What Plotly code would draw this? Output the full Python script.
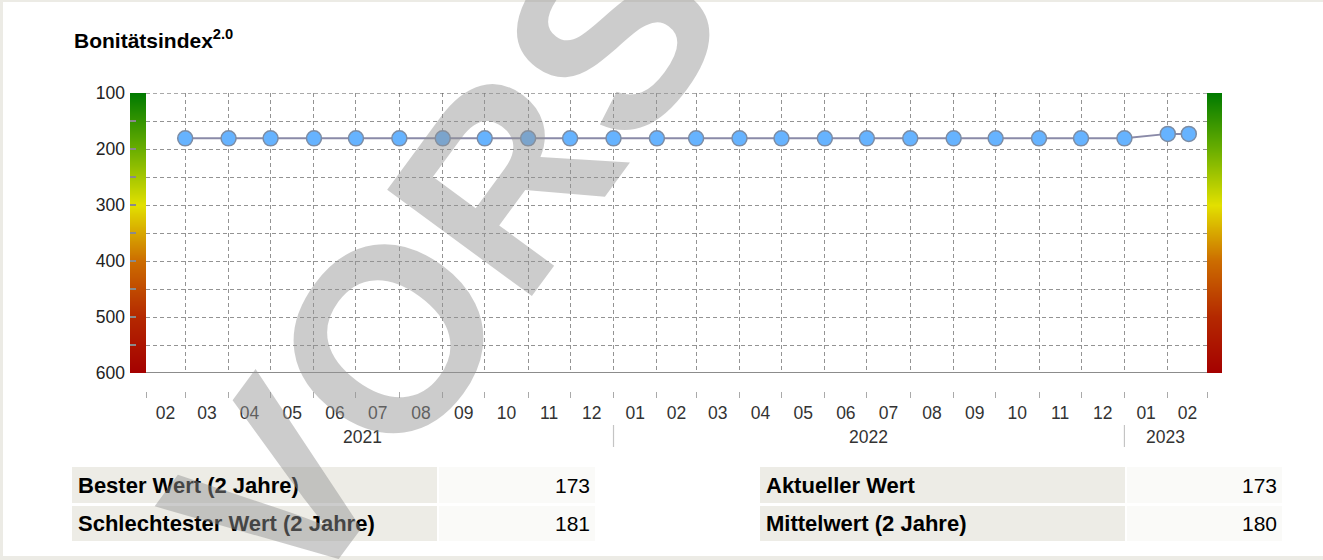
import plotly.graph_objects as go

# ---------------- data ----------------
dates = [
    "2021-03-01", "2021-04-01", "2021-05-01", "2021-06-01", "2021-07-01",
    "2021-08-01", "2021-09-01", "2021-10-01", "2021-11-01", "2021-12-01",
    "2022-01-01", "2022-02-01", "2022-03-01", "2022-04-01", "2022-05-01",
    "2022-06-01", "2022-07-01", "2022-08-01", "2022-09-01", "2022-10-01",
    "2022-11-01", "2022-12-01", "2023-01-01", "2023-02-01", "2023-02-16",
]
values = [
    181, 181, 181, 181, 181,
    181, 181, 181, 181, 181,
    181, 181, 181, 181, 181,
    181, 181, 181, 181, 181,
    181, 181, 181, 173, 173,
]
x_range = ["2021-02-01", "2023-03-01"]
year_labels = ["2021", "2022", "2023"]
year_label_dates = ["2021-07-06", "2022-07-02", "2023-01-30"]
year_starts = ["2022-01-01", "2023-01-01"]

y_ticks = [100, 150, 200, 250, 300, 350, 400, 450, 500, 550, 600]
y_tick_text = ["100", "", "200", "", "300", "", "400", "", "500", "", "600"]
scale_levels = [100, 125, 150, 175, 200, 225, 250, 275, 300, 325, 350, 375,
                400, 425, 450, 475, 500, 525, 550, 575, 600]

table_left_labels = ["Bester Wert (2 Jahre)", "Schlechtester Wert (2 Jahre)"]
table_left_values = ["173", "181"]
table_right_labels = ["Aktueller Wert", "Mittelwert (2 Jahre)"]
table_right_values = ["173", "180"]

title_text = "Bonitätsindex<sup>2.0</sup>"
watermark_text = "VORS"

# ---------------- layout helpers ----------------
W, H = 1323, 560
FONT = "Liberation Sans, Arial, Helvetica, sans-serif"


def px_x(x):
    return x / W


def px_y(y):
    return 1 - y / H


PLOT_L, PLOT_R, PLOT_T, PLOT_B = 146, 1207, 93, 373
CB_L0, CB_R1 = 130, 1222

colorscale = [
    [0.0, "#007a00"],
    [0.2, "#6aae00"],
    [0.4, "#e2e000"],
    [0.6, "#cc6c00"],
    [0.8, "#b42800"],
    [1.0, "#a40000"],
]

fig = go.Figure()

# gradient bars on both sides
for xa in ["x2", "x3"]:
    fig.add_trace(go.Heatmap(
        x=[0, 1], y=scale_levels, z=[[v, v] for v in scale_levels],
        colorscale=colorscale, zmin=100, zmax=600, zsmooth="best",
        showscale=False, hoverinfo="skip", xaxis=xa, yaxis="y",
    ))

fig.add_trace(go.Scatter(
    x=dates, y=values, mode="lines+markers", xaxis="x", yaxis="y",
    line=dict(color="#8a8aa8", width=2),
    marker=dict(size=15, color="#66b3ff", line=dict(color="#7c8ca4", width=1.5)),
    hoverinfo="x+y",
))

grid_col = "#939393"
dash = "4px,3px"
TICK_FONT = dict(family=FONT, size=17.5, color="#333333")

fig.update_layout(
    template="none",
    width=W, height=H, autosize=False,
    margin=dict(l=0, r=0, t=0, b=0, pad=0, autoexpand=False),
    paper_bgcolor="white", plot_bgcolor="white",
    showlegend=False,
    font=dict(family=FONT, color="#333333"),
    xaxis=dict(
        domain=[px_x(PLOT_L), px_x(PLOT_R)], type="date", range=x_range,
        dtick="M1", tick0="2021-02-01", tickformat="%m", ticklabelmode="period",
        showgrid=True, gridcolor=grid_col, griddash=dash, gridwidth=1,
        ticks="outside", ticklen=6, tickcolor="#aaaaaa", tickwidth=1,
        anchor="free", position=px_y(391), showline=False, zeroline=False,
        tickfont=TICK_FONT, ticklabelstandoff=0, automargin=False,
    ),
    xaxis2=dict(domain=[px_x(CB_L0), px_x(PLOT_L)], range=[0, 1], visible=False,
                anchor="y", automargin=False),
    xaxis3=dict(domain=[px_x(PLOT_R), px_x(CB_R1)], range=[0, 1], visible=False,
                anchor="y", automargin=False),
    yaxis=dict(
        domain=[px_y(PLOT_B), px_y(PLOT_T)], range=[600, 100], anchor="x2",
        tickvals=y_ticks, ticktext=y_tick_text,
        showgrid=True, gridcolor=grid_col, griddash=dash, gridwidth=1,
        ticks="inside", ticklen=6, tickcolor="#8a8a8a", tickwidth=1.5,
        showline=False, zeroline=False,
        tickfont=dict(family=FONT, size=17.5, color="#222222"),
        ticklabelstandoff=4, automargin=False,
    ),
    yaxis2=dict(
        overlaying="y", side="right", anchor="x3", range=[600, 100],
        tickvals=y_ticks, ticktext=y_tick_text, showgrid=False,
        ticks="inside", ticklen=6, tickcolor="#8a8a8a", tickwidth=1.5,
        showline=False, zeroline=False,
        tickfont=dict(family=FONT, size=17.5, color="#222222"),
        automargin=False,
    ),
)

shapes = []
# page frame (top, left, bottom)
frame_col = "#ecebe5"
shapes.append(dict(type="rect", xref="paper", yref="paper", x0=0, x1=1,
                   y0=px_y(2), y1=1, fillcolor=frame_col, line_width=0))
shapes.append(dict(type="rect", xref="paper", yref="paper", x0=0, x1=px_x(3),
                   y0=0, y1=1, fillcolor=frame_col, line_width=0))
shapes.append(dict(type="rect", xref="paper", yref="paper", x0=0, x1=1,
                   y0=0, y1=px_y(556), fillcolor=frame_col, line_width=0))
# plot frame lines
shapes.append(dict(type="line", xref="paper", yref="y", x0=px_x(PLOT_L), x1=px_x(PLOT_R),
                   y0=600, y1=600, line=dict(color="#666666", width=1.5)))
shapes.append(dict(type="line", xref="paper", yref="y", x0=px_x(PLOT_L), x1=px_x(PLOT_R),
                   y0=100, y1=100, line=dict(color="#555555", width=1.2, dash=dash)))
# year separators
for d in year_starts:
    shapes.append(dict(type="line", xref="x", yref="paper", x0=d, x1=d,
                       y0=px_y(447), y1=px_y(425),
                       line=dict(color="#c4c4c4", width=1.2)))

annotations = []
annotations.append(dict(text=title_text, xref="paper", yref="paper",
                        x=px_x(72), y=px_y(39), xanchor="left", yanchor="middle",
                        showarrow=False,
                        font=dict(family=FONT, size=21, color="#000000", weight="bold")))
for lbl, d in zip(year_labels, year_label_dates):
    annotations.append(dict(text=lbl, xref="x", yref="paper", x=d, y=px_y(437),
                            xanchor="center", yanchor="middle", showarrow=False,
                            font=TICK_FONT))

# summary table
rows = [(467, 503), (506, 541)]
blocks = [
    (72, 437, 439, 595, table_left_labels, table_left_values),
    (760, 1125, 1127, 1282, table_right_labels, table_right_values),
]
for lx0, lx1, vx0, vx1, labels, vals in blocks:
    for (ry0, ry1), lab, val in zip(rows, labels, vals):
        shapes.append(dict(type="rect", xref="paper", yref="paper",
                           x0=px_x(lx0), x1=px_x(lx1), y0=px_y(ry1), y1=px_y(ry0),
                           fillcolor="#edece6", line_width=0, layer="below"))
        shapes.append(dict(type="rect", xref="paper", yref="paper",
                           x0=px_x(vx0), x1=px_x(vx1), y0=px_y(ry1), y1=px_y(ry0),
                           fillcolor="#fafaf8", line_width=0, layer="below"))
        yc = px_y((ry0 + ry1) / 2)
        annotations.append(dict(text=lab, xref="paper", yref="paper",
                                x=px_x(lx0 + 4), y=yc, xanchor="left", yanchor="middle",
                                showarrow=False,
                                font=dict(family=FONT, size=22, color="#000000",
                                          weight="bold")))
        annotations.append(dict(text=val, xref="paper", yref="paper",
                                x=px_x(vx1 - 3), y=yc, xanchor="right", yanchor="middle",
                                showarrow=False,
                                font=dict(family=FONT, size=21, color="#000000")))

# watermark (only its first letters fall inside the picture)
annotations.append(dict(text=watermark_text, xref="paper", yref="paper",
                        x=px_x(444), y=px_y(262), xanchor="center", yanchor="middle",
                        textangle=-53.7, showarrow=False,
                        font=dict(family=FONT, size=261, color="rgba(146,146,146,0.47)",
                                  weight="bold")))

fig.update_layout(shapes=shapes, annotations=annotations)

post = (
    "document.documentElement.style.margin='0';"
    "document.documentElement.style.padding='0';"
    "document.body.style.margin='0';"
    "document.body.style.padding='0';"
    "document.body.style.overflow='hidden';"
    "var gdd=document.getElementById('{plot_id}');"
    "gdd.style.position='absolute';gdd.style.left='0px';gdd.style.top='0px';"
)
fig.write_html("out.html", post_script=post,
               config={"displayModeBar": False, "responsive": False})
